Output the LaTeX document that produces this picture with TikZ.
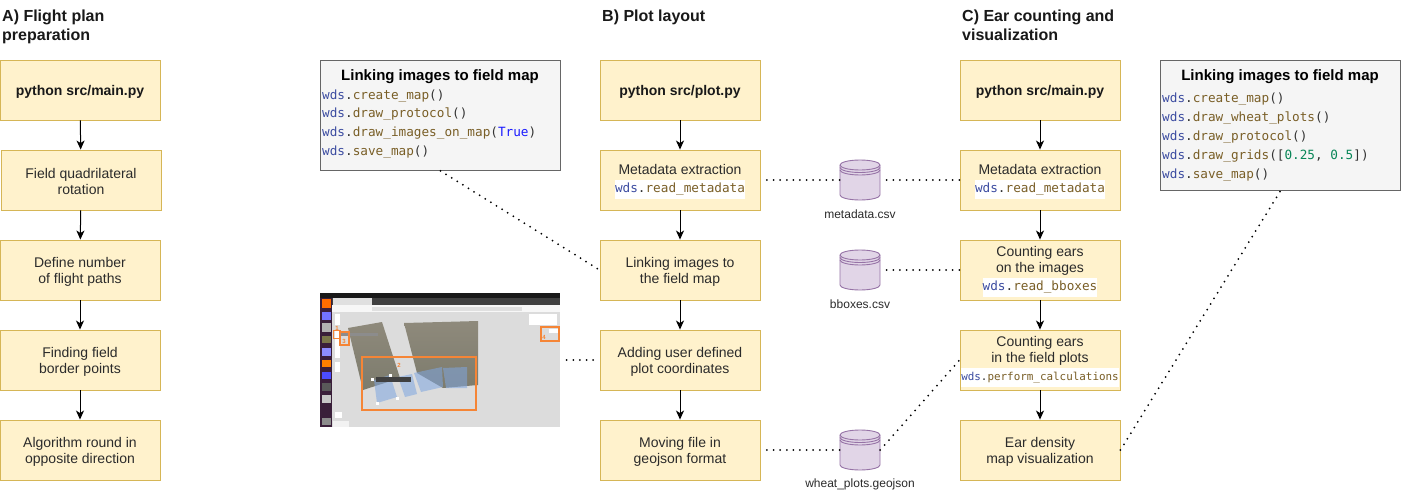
\documentclass[tikz,border=0pt]{standalone}
\usepackage{fontspec}
\setmainfont{Liberation Sans}
\setmonofont{DejaVu Sans Mono}
\usetikzlibrary{arrows.meta,calc}
\definecolor{boxfill}{HTML}{FFF2CC}
\definecolor{boxline}{HTML}{D6B656}
\definecolor{dbfill}{HTML}{E1D5E7}
\definecolor{dbline}{HTML}{9673A6}
\definecolor{codefill}{HTML}{F5F5F5}
\definecolor{codeline}{HTML}{666666}
\definecolor{txt}{HTML}{2B2B2B}
\definecolor{cwds}{HTML}{3B4BA0}
\definecolor{cfun}{HTML}{795E26}
\definecolor{cnum}{HTML}{098658}
\definecolor{ckey}{HTML}{1A1AFF}
\definecolor{cpun}{HTML}{333333}
\definecolor{shotorange}{HTML}{F58536}
\definecolor{shotblue}{HTML}{7FA6E0}
\definecolor{shotside}{HTML}{3A1F3A}
\definecolor{shotmap}{HTML}{DCDCDC}
\definecolor{imgtop}{HTML}{8F8A7C}
\definecolor{imgmid}{HTML}{5D6A45}
\definecolor{imgbot}{HTML}{7C7B6C}
\newcommand{\wds}{\textcolor{cwds}{wds}\textcolor{cpun}{.}}
\newcommand{\fn}[1]{\textcolor{cfun}{#1}}
\newcommand{\pn}[1]{\textcolor{cpun}{#1}}
\newcommand{\codeline}[1]{\fontsize{12.7}{15}\selectfont\ttfamily #1}
\newcommand{\hl}[1]{\colorbox{white}{\hspace{-3pt}\vphantom{Ag}\smash{\codeline{#1}}\hspace{-3pt}}}
\newcommand{\dbdraw}[1]{%
  \begin{scope}[shift={(#1.center)}]
    \draw[dbl,fill=dbfill] (-20,-15) -- (-20,15) arc[x radius=20,y radius=5,start angle=180,end angle=0] -- (20,-15) arc[x radius=20,y radius=5,start angle=0,end angle=-180] -- cycle;
    \draw[dbl] (-20,-15) arc[x radius=20,y radius=5,start angle=180,end angle=0];
    \draw[dbl] (-20,-12.5) arc[x radius=20,y radius=5,start angle=180,end angle=0];
    \draw[dbl] (-20,-10) arc[x radius=20,y radius=5,start angle=180,end angle=0];
  \end{scope}}
\newcommand{\boxnode}[5][]{%
  \node[box] (#2) at (#3,#4) {};
  \node[boxtext,#1] (#2t) at (#3,#4+1.5) {#5};}
\tikzset{
  x=1pt,y=-1pt,
  box/.style={draw=boxline,fill=boxfill,line width=0.9pt,minimum width=160pt,minimum height=60pt,inner sep=0pt},
  boxtext/.style={inner sep=0pt,align=center,font=\fontsize{14}{16}\selectfont,text=txt},
  boldtext/.style={font=\fontsize{14}{16}\selectfont\bfseries,text=black!90},
  codebox/.style={draw=codeline,fill=codefill,line width=0.9pt,minimum width=240pt,inner sep=0pt,anchor=north west},
  codetitle/.style={font=\fontsize{15}{17}\selectfont\bfseries,text=black,inner sep=0pt},
  codetext/.style={anchor=west,inner sep=0pt},
  dbnode/.style={minimum width=40pt,minimum height=40pt,inner sep=0pt},
  dbl/.style={draw=dbline,line width=0.9pt},
  dblabel/.style={font=\fontsize{12}{14}\selectfont,text=txt,inner sep=0pt},
  header/.style={font=\fontsize{16}{19}\selectfont\bfseries,align=left,anchor=north west,inner sep=0pt,text=black!90},
  flow/.style={draw=black,line width=1pt,-{Stealth[length=9pt,width=8pt,inset=2.5pt]}},
  dots/.style={draw=black,line width=2pt,line cap=round,dash pattern=on 0pt off 6.6pt},
  gapstart/.style={dash phase=0.1pt},
  shotnum/.style={font=\fontsize{6}{7}\selectfont\bfseries,text=shotorange,inner sep=0pt},
}
\begin{document}
\begin{tikzpicture}
\useasboundingbox (0,0) rectangle (1402,492);
\fill[white] (0,0) rectangle (1402,492);
% headers
\node[header] (hA) at (2,10) {A) Flight plan\\preparation};
\node[header] (hB) at (602,10) {B) Plot layout};
\node[header] (hC) at (962,10) {C) Ear counting and\\visualization};
% column A
\boxnode[boldtext]{a1}{80}{90}{python src/main.py}
\boxnode{a2}{81}{180}{Field quadrilateral\\rotation}
\boxnode{a3}{80}{270}{Define number\\of flight paths}
\boxnode{a4}{80}{360}{Finding field\\border points}
\boxnode{a5}{80}{450}{Algorithm round in\\opposite direction}
\draw[flow] (a1) -- (a2);
\draw[flow] (a2) -- (a3);
\draw[flow] (a3) -- (a4);
\draw[flow] (a4) -- (a5);
% column B
\boxnode[boldtext]{b1}{680}{90}{python src/plot.py}
\boxnode{b2}{680}{180}{Metadata extraction\\[2pt]\hl{\wds\fn{read\_metadata}}}
\boxnode{b3}{680}{270}{Linking images to\\the field map}
\boxnode{b4}{680}{360}{Adding user defined\\plot coordinates}
\boxnode{b5}{680}{450}{Moving file in\\geojson format}
\draw[flow] (b1) -- (b2);
\draw[flow] (b2) -- (b3);
\draw[flow] (b3) -- (b4);
\draw[flow] (b4) -- (b5);
% column C
\boxnode[boldtext]{c1}{1040}{90}{python src/main.py}
\boxnode{c2}{1040}{180}{Metadata extraction\\[2pt]\hl{\wds\fn{read\_metadata}}}
\boxnode{c3}{1040}{270}{Counting ears\\on the images\\[2pt]\hl{\wds\fn{read\_bboxes}}}
\boxnode{c4}{1040}{360}{Counting ears\\in the field plots\\[2pt]\colorbox{white}{\hspace{-3pt}\vphantom{Ag}\smash{\fontsize{10.9}{15}\selectfont\ttfamily\wds\fn{perform\_calculations}}\hspace{-3pt}}}
\boxnode{c5}{1040}{450}{Ear density\\map visualization}
\draw[flow] (c1) -- (c2);
\draw[flow] (c2) -- (c3);
\draw[flow] (c3) -- (c4);
\draw[flow] (c4) -- (c5);
% code boxes
\node[codebox,minimum height=110pt] (code1) at (320,60) {};
\node[codetitle] (code1t) at (440,76.5) {Linking images to field map};
\node[codetext] (code1a) at (322,96) {\codeline{\wds\fn{create\_map}\pn{()}}};
\node[codetext] (code1b) at (322,114.5) {\codeline{\wds\fn{draw\_protocol}\pn{()}}};
\node[codetext] (code1c) at (322,133.5) {\codeline{\wds\fn{draw\_images\_on\_map}\pn{(}\textcolor{ckey}{True}\pn{)}}};
\node[codetext] (code1d) at (322,152.5) {\codeline{\wds\fn{save\_map}\pn{()}}};
\node[codebox,minimum height=130pt] (code2) at (1160,60) {};
\node[codetitle] (code2t) at (1280,76.5) {Linking images to field map};
\node[codetext] (code2a) at (1162,99) {\codeline{\wds\fn{create\_map}\pn{()}}};
\node[codetext] (code2b) at (1162,118) {\codeline{\wds\fn{draw\_wheat\_plots}\pn{()}}};
\node[codetext] (code2c) at (1162,137) {\codeline{\wds\fn{draw\_protocol}\pn{()}}};
\node[codetext] (code2d) at (1162,156) {\codeline{\wds\fn{draw\_grids}\pn{([}\textcolor{cnum}{0.25}\pn{, }\textcolor{cnum}{0.5}\pn{])}}};
\node[codetext] (code2e) at (1162,175) {\codeline{\wds\fn{save\_map}\pn{()}}};
% databases
\node[dbnode] (db1) at (860,180) {};
\node[dbnode] (db2) at (860,270) {};
\node[dbnode] (db3) at (860,450) {};
\dbdraw{db1}\dbdraw{db2}\dbdraw{db3}
\node[dblabel] (db1l) at (860,214) {metadata.csv};
\node[dblabel] (db2l) at (860,304) {bboxes.csv};
\node[dblabel] (db3l) at (860,484) {wheat\_plots.geojson};
% screenshot
\node[minimum width=240pt,minimum height=134pt,inner sep=0pt,fill=shotmap] (shot) at (440,360) {};
\fill[black!90] (320,293) rectangle (560,297.5);
\fill[black!75] (332,297.5) rectangle (560,305);
\fill[black!12] (333,298) rectangle (372,305);
\fill[black!3] (332,305) rectangle (560,312);
\fill[black!12] (372,307) rectangle (522,310.5);
\fill[shotside] (320,297.5) rectangle (332,427);
\fill[orange!85!red] (322,299) rectangle (331,308);
\foreach \ya/\yb/\cc in {312/320/blue!55!white,323/332/black!30,336/343/yellow!40!black,348/356/blue!45!white,360/367/orange,372/379/blue!70,383/391/black!65,395/403/black!22,418/425/black!45}
  \fill[\cc] (322,\ya) rectangle (331,\yb);
\begin{scope}
  \clip (348,328) -- (382,322) -- (400,378) -- (363,390) -- cycle;
  \shade[top color=imgtop,middle color=imgmid,bottom color=imgbot] (340,320) rectangle (405,392);
\end{scope}
\begin{scope}
  \clip (404,323) -- (442,322) -- (478,321) -- (478,385) -- (443,388) -- (417,373) -- cycle;
  \shade[top color=imgtop,middle color=imgmid,bottom color=imgbot] (400,320) rectangle (480,390);
\end{scope}
\fill[shotblue,opacity=.55] (374,380) -- (390,375) -- (397,397) -- (377,403) -- cycle;
\fill[shotblue,opacity=.55] (398,377) -- (412,374) -- (417,394) -- (405,397) -- cycle;
\fill[shotblue,opacity=.55] (414,373) -- (442,367) -- (443,387) -- (421,392) -- cycle;
\fill[shotblue,opacity=.55] (443,368) -- (467,367) -- (467,388) -- (446,388) -- cycle;
\draw[shotorange,line width=1.4pt] (362,357) rectangle (476,410);
\fill[white] (529,314) rectangle (557,325);
\fill[white] (549,329) rectangle (558,333);
\fill[white] (335,314) rectangle (340,325);
\fill[white] (335,330) rectangle (340,358);
\fill[white] (335,362) rectangle (340,372);
\fill[white] (335,412) rectangle (342,418);
\fill[black!5] (333,421) rectangle (349,427);
\fill[black!45] (341,333) rectangle (378,336);
\draw[shotorange,line width=1.2pt] (340,332) rectangle (349,345);
\draw[shotorange,line width=1.2pt] (541,327) rectangle (559,341);
\draw[shotorange,line width=1pt] (333.5,330.5) rectangle (340,338);
\fill[black!75] (376,377) rectangle (411,382);
\foreach \hx/\hy in {372/379,390/375,397/398,377/403}
  \fill[white] (\hx-1.5,\hy-1.5) rectangle (\hx+1.5,\hy+1.5);
\node[shotnum] (n1) at (337,328) {1};
\node[shotnum] (n2) at (399,365) {2};
\node[shotnum] (n3) at (344,341) {3};
\node[shotnum] (n4) at (544,337) {4};
% dotted connectors
\draw[dots] (code1.south) -- (b3.west);
\draw[dots,gapstart] (shot.east) -- (b4.west);
\draw[dots,gapstart] (b2.east) -- (db1.west);
\draw[dots,gapstart] (db1.east) -- (c2.west);
\draw[dots,gapstart] (db2.east) -- (c3.west);
\draw[dots,gapstart] (b5.east) -- (db3.west);
\draw[dots] (db3.east) -- (c4.west);
\draw[dots] (c5.east) -- (code2.south);
\end{tikzpicture}
\end{document}
